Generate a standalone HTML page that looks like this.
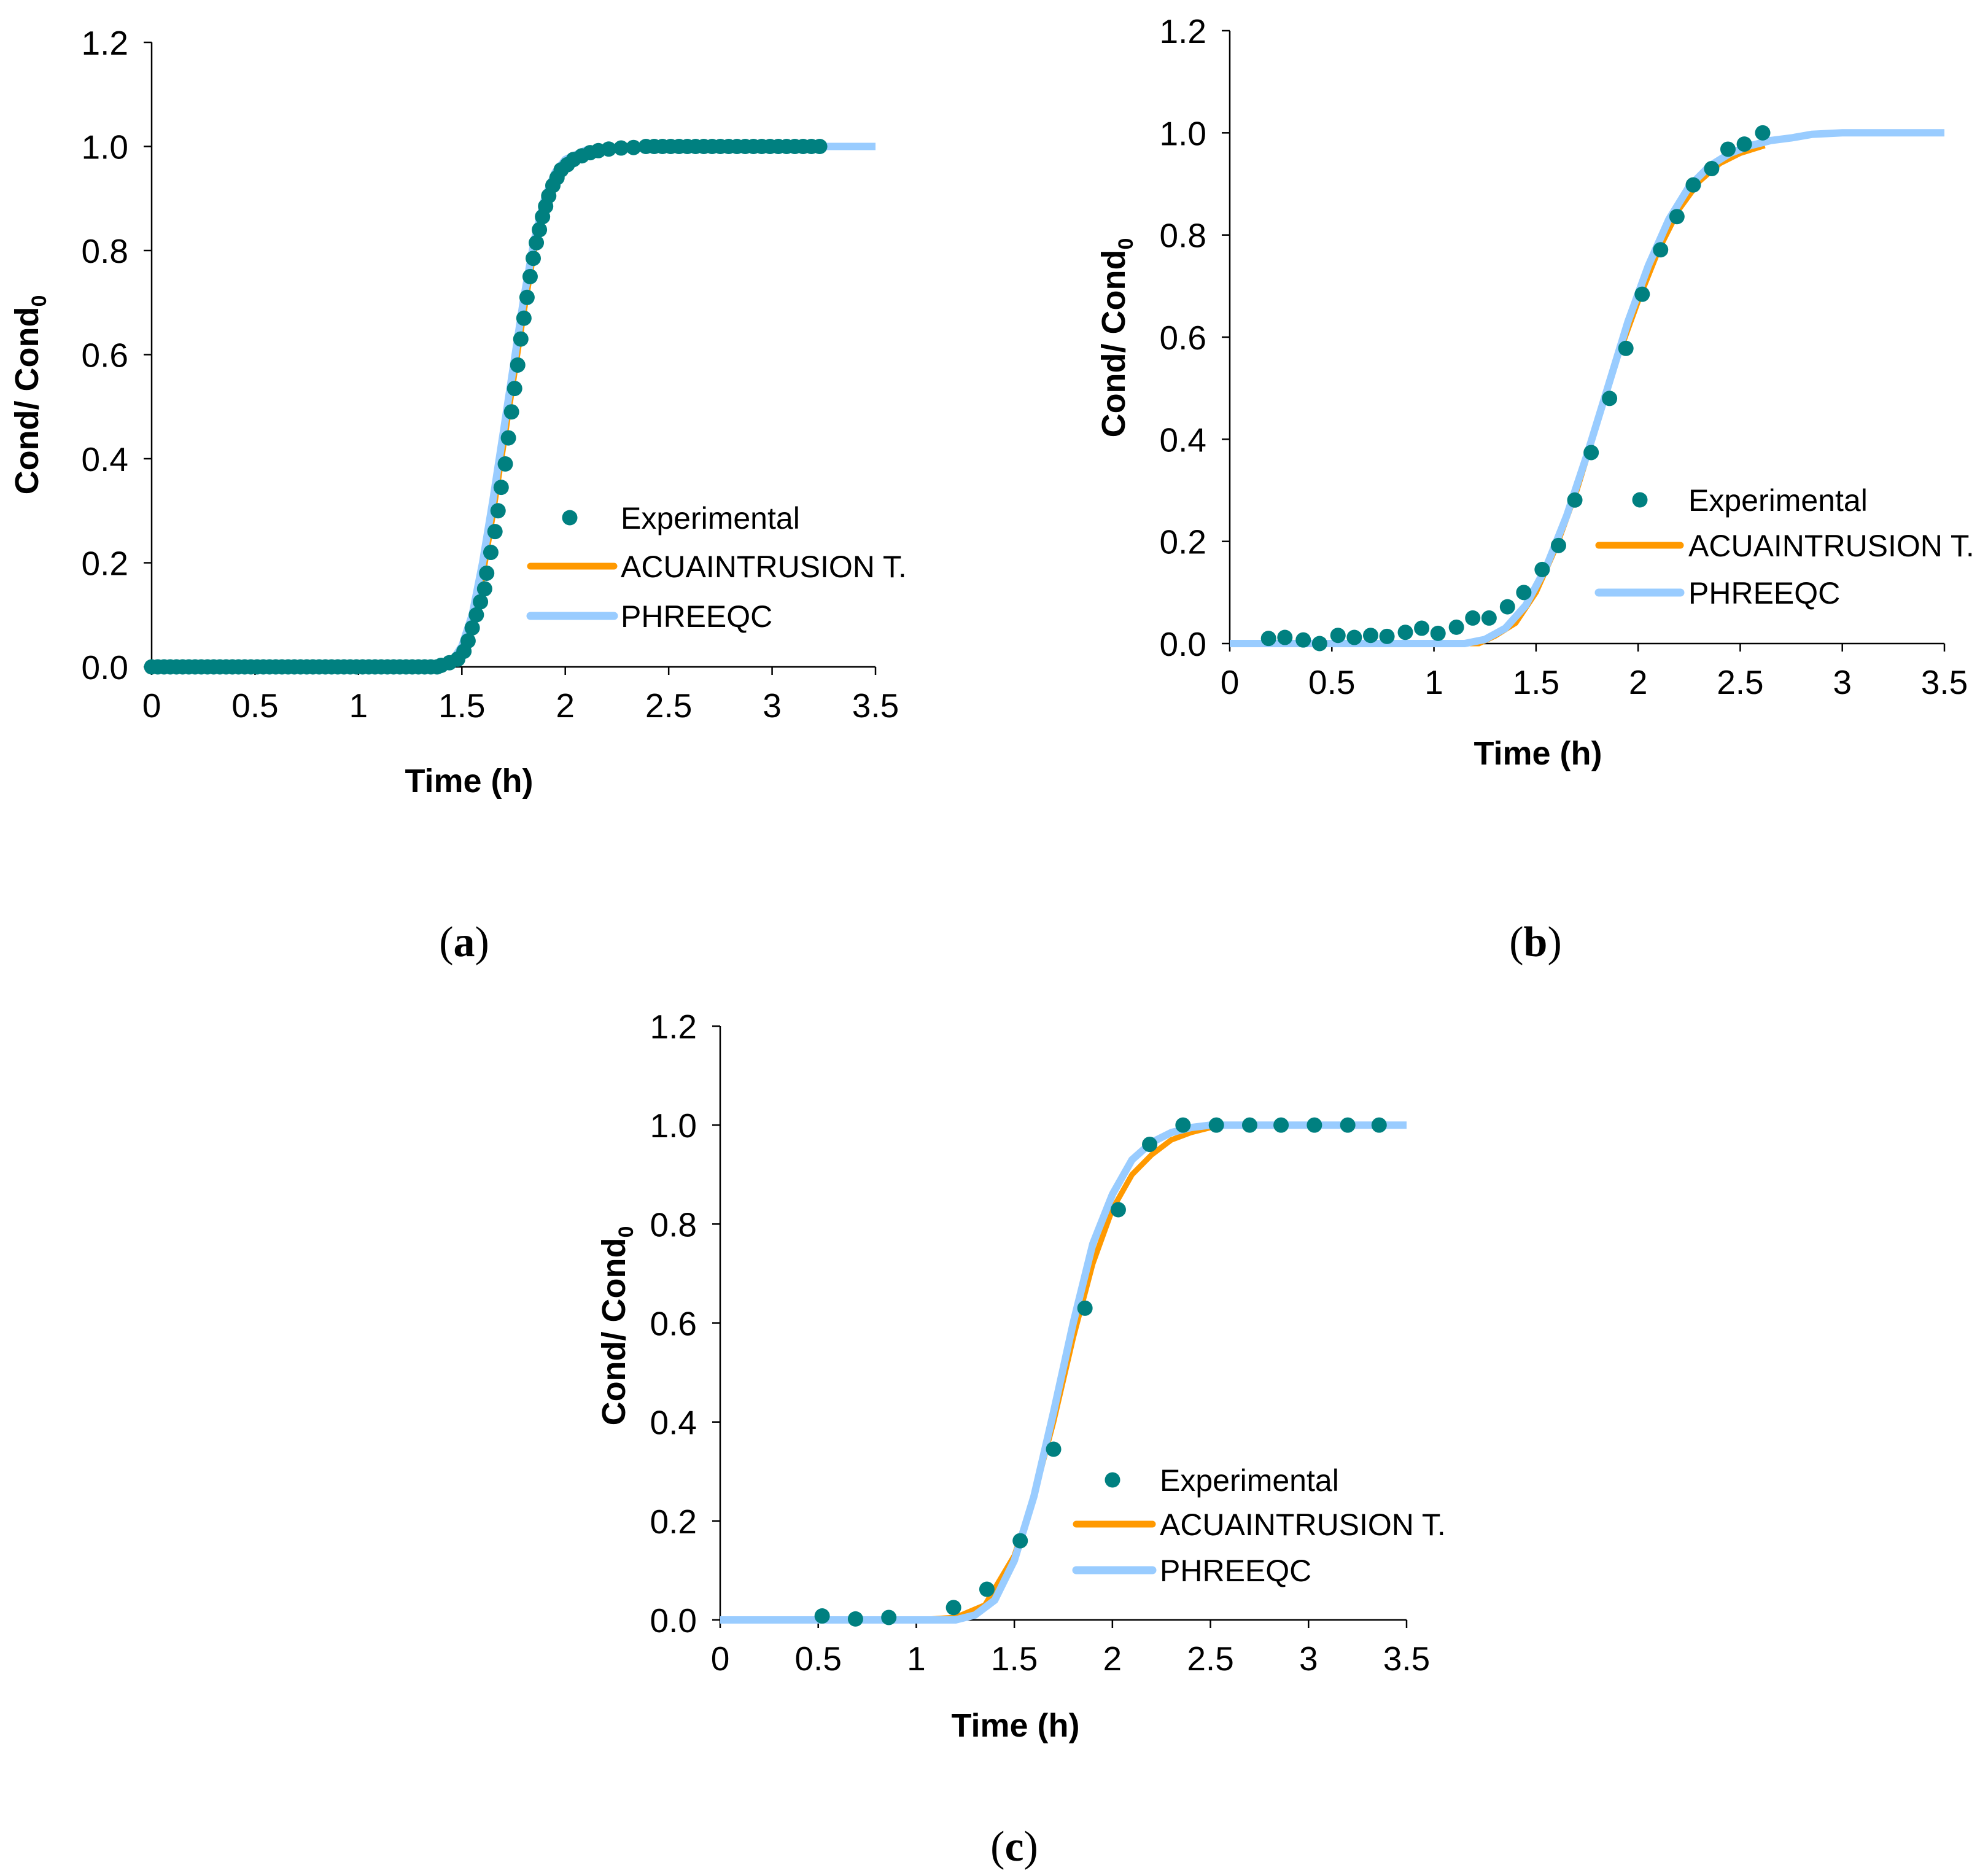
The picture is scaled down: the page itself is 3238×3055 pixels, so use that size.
<!DOCTYPE html>
<html><head><meta charset="utf-8"><style>
html,body{margin:0;padding:0;background:#fff;}
svg{display:block;}
</style></head><body>
<svg id="fig" width="3238" height="3055" viewBox="0 0 3238 3055" xmlns="http://www.w3.org/2000/svg" font-family="Liberation Sans, Arial, sans-serif">
<rect width="3238" height="3055" fill="#fff"/>
</svg>
<script>
// ---------- shared ticks ----------
const xTicks = [0, 0.5, 1, 1.5, 2, 2.5, 3, 3.5];
const xTickLabels = ["0","0.5","1","1.5","2","2.5","3","3.5"];
const yTicks = [0, 0.2, 0.4, 0.6, 0.8, 1.0, 1.2];
const yTickLabels = ["0.0","0.2","0.4","0.6","0.8","1.0","1.2"];

// ---------- chart (a) data ----------
const expA_t = [0,0.03,0.06,0.09,0.12,0.15,0.18,0.21,0.24,0.27,0.3,0.33,0.36,0.39,0.42,0.45,0.48,0.51,0.54,0.57,0.6,0.63,0.66,0.69,0.72,0.75,0.78,0.81,0.84,0.87,0.9,0.93,0.96,0.99,1.02,1.05,1.08,1.11,1.14,1.17,1.2,1.23,1.26,1.29,1.32,1.35,1.38,
1.40,1.44,1.48,1.51,1.53,1.55,1.57,1.59,1.61,1.62,1.64,1.66,1.675,1.69,1.71,1.725,1.74,1.755,1.77,1.785,1.80,1.815,1.83,1.845,1.86,1.875,1.89,1.905,1.92,1.94,1.96,1.98,2.01,2.04,2.08,2.12,2.16,2.21,2.27,2.33,
2.39,2.43,2.47,2.51,2.55,2.59,2.63,2.67,2.71,2.75,2.79,2.83,2.87,2.91,2.95,2.99,3.03,3.07,3.11,3.15,3.19,3.23];
const expA_y = [0,0,0,0,0,0,0,0,0,0,0,0,0,0,0,0,0,0,0,0,0,0,0,0,0,0,0,0,0,0,0,0,0,0,0,0,0,0,0,0,0,0,0,0,0,0,0,
0.003,0.008,0.015,0.03,0.05,0.075,0.1,0.125,0.15,0.18,0.22,0.26,0.30,0.345,0.39,0.44,0.49,0.535,0.58,0.63,0.67,0.71,0.75,0.785,0.815,0.84,0.865,0.885,0.905,0.925,0.94,0.955,0.965,0.975,0.982,0.988,0.992,0.995,0.997,0.998,
1,1,1,1,1,1,1,1,1,1,1,1,1,1,1,1,1,1,1,1,1,1];
const acuA_t = [0,1.4,1.5,1.55,1.6,1.65,1.7,1.75,1.8,1.85,1.9,1.95,2.0,2.1,2.2,2.4,3.5];
const acuA_y = [0,0,0.03,0.08,0.17,0.29,0.42,0.55,0.68,0.80,0.89,0.94,0.97,0.99,0.998,1,1];
const phrA_t = [0,1.35,1.45,1.5,1.55,1.6,1.65,1.7,1.75,1.8,1.85,1.9,1.95,2.0,2.1,2.2,2.4,3.5];
const phrA_y = [0,0,0.01,0.04,0.1,0.2,0.32,0.45,0.58,0.71,0.82,0.9,0.95,0.975,0.993,0.998,1,1];

// ---------- chart (b) data ----------
const expB_t = [0.19,0.27,0.36,0.44,0.53,0.61,0.69,0.77,0.86,0.94,1.02,1.11,1.19,1.27,1.36,1.44,1.53,1.61,1.69,1.77,1.86,1.94,2.02,2.11,2.19,2.27,2.36,2.44,2.52,2.61];
const expB_y = [0.01,0.012,0.007,0,0.016,0.012,0.016,0.014,0.022,0.03,0.02,0.032,0.05,0.05,0.072,0.1,0.145,0.192,0.281,0.374,0.48,0.578,0.684,0.771,0.836,0.898,0.93,0.968,0.978,1.0];
const acuB_t = [0,1.22,1.3,1.4,1.5,1.6,1.7,1.8,1.9,2.0,2.1,2.2,2.3,2.4,2.5,2.62];
const acuB_y = [0,0,0.015,0.04,0.1,0.19,0.3,0.43,0.56,0.67,0.77,0.85,0.905,0.94,0.96,0.975];
const phrB_t = [0,1.15,1.25,1.35,1.45,1.55,1.65,1.75,1.85,1.95,2.05,2.15,2.25,2.35,2.45,2.55,2.65,2.75,2.85,3.0,3.5];
const phrB_y = [0,0,0.008,0.03,0.075,0.15,0.25,0.37,0.5,0.63,0.74,0.83,0.895,0.935,0.96,0.975,0.985,0.99,0.997,1,1];

// ---------- chart (c) data ----------
const expC_t = [0.52,0.69,0.86,1.19,1.36,1.53,1.70,1.86,2.03,2.19,2.36,2.53,2.70,2.86,3.03,3.20,3.36];
const expC_y = [0.008,0.002,0.005,0.025,0.062,0.16,0.345,0.63,0.829,0.961,1,1,1,1,1,1,1];
const acuC_t = [0,1.0,1.2,1.35,1.5,1.6,1.7,1.8,1.9,2.0,2.1,2.2,2.3,2.4,2.5,2.6,3.4];
const acuC_y = [0,0,0.005,0.03,0.13,0.25,0.4,0.57,0.72,0.83,0.9,0.94,0.97,0.985,0.995,1,1];
const phrC_t = [0,1.2,1.3,1.4,1.5,1.6,1.7,1.8,1.9,2.0,2.1,2.2,2.3,2.4,2.5,3.5];
const phrC_y = [0,0,0.01,0.04,0.12,0.25,0.42,0.6,0.76,0.86,0.93,0.965,0.985,0.995,1,1];

const NS = "http://www.w3.org/2000/svg";
const svg = document.getElementById('fig');
function mk(tag, attrs, parent){
  const e = document.createElementNS(NS, tag);
  for (const k in attrs) e.setAttribute(k, attrs[k]);
  (parent||svg).appendChild(e);
  return e;
}
const TEAL="#008080", ORANGE="#FF9900", BLUE="#99CCFF";

function drawChart(id, g, exp_t, exp_y, acu_t, acu_y, phr_t, phr_y){
  const grp = mk('g', {});
  
  
  const sx = v => g.x0 + (v/3.5)*(g.x1-g.x0);
  const sy = v => g.y0 - (v/1.2)*(g.y0-g.y1);
  const ya = mk('line', {x1:g.x0,y1:g.y1,x2:g.x0,y2:g.y0,stroke:'#000','stroke-width':2.5}, grp);
  
  
  const xa = mk('line', {x1:g.x0,y1:g.y0,x2:g.x1,y2:g.y0,stroke:'#000','stroke-width':2.5}, grp);
  
  
  yTicks.forEach((v,i)=>{
    const y = sy(v);
    mk('line',{x1:g.x0-13,y1:y,x2:g.x0,y2:y,stroke:'#000','stroke-width':2.5},grp);
    const t = mk('text',{x:g.x0-38,y:y+20,'font-size':55,'text-anchor':'end',fill:'#000'},grp);
    t.textContent = yTickLabels[i];
    
    
  });
  xTicks.forEach((v,i)=>{
    const x = sx(v);
    mk('line',{x1:x,y1:g.y0,x2:x,y2:g.y0+13,stroke:'#000','stroke-width':2.5},grp);
    const t = mk('text',{x:x,y:g.y0+82,'font-size':55,'text-anchor':'middle',fill:'#000'},grp);
    t.textContent = xTickLabels[i];
    
    
  });
  const xt = mk('text',{x:g.xtx,y:g.xty,'font-size':54,'font-weight':'bold','text-anchor':'middle',fill:'#000'},grp);
  xt.textContent = 'Time (h)';
  
  
  const yt = mk('text',{x:0,y:0,'font-size':54,'font-weight':'bold','text-anchor':'middle',fill:'#000',transform:`translate(${g.ytx},${g.yty}) rotate(-90)`},grp);
  yt.innerHTML = 'Cond/ Cond<tspan font-size="34" dy="13">0</tspan>';
  
  
  const pts = (ts, ys) => ts.map((t,i)=>sx(t).toFixed(1)+','+sy(ys[i]).toFixed(1)).join(' ');
  const ao = mk('polyline',{points:pts(acu_t,acu_y),fill:'none',stroke:ORANGE,'stroke-width':9,'stroke-linejoin':'round'},grp);
  
  
  const pb = mk('polyline',{points:pts(phr_t,phr_y),fill:'none',stroke:BLUE,'stroke-width':12,'stroke-linejoin':'round'},grp);
  
  
  exp_t.forEach((t,i)=>{
    const c = mk('circle',{cx:sx(t),cy:sy(exp_y[i]),r:12.5,fill:TEAL},grp);
    
    
  });
  const L = g.leg;
  const lg = mk('g',{},grp);
  
  
  mk('circle',{cx:L.mx,cy:L.y1,r:12.5,fill:TEAL},lg);
  mk('line',{x1:L.lx0,y1:L.y2,x2:L.lx1,y2:L.y2,stroke:ORANGE,'stroke-width':11,'stroke-linecap':'round'},lg);
  mk('line',{x1:L.lx0,y1:L.y3,x2:L.lx1,y2:L.y3,stroke:BLUE,'stroke-width':13,'stroke-linecap':'round'},lg);
  [['Experimental',L.y1],['ACUAINTRUSION T.',L.y2],['PHREEQC',L.y3]].forEach(([s,y])=>{
    const t = mk('text',{x:L.tx,y:y+18,'font-size':50,fill:'#000'},lg);
    t.textContent = s;
    
    
  });
  const cap = mk('text',{x:g.cx,y:g.cy,'font-size':70,'text-anchor':'middle',fill:'#000'},grp);
  cap.setAttribute('font-family', 'Liberation Serif, serif');
  cap.innerHTML = '(<tspan font-weight="bold">'+id+'</tspan>)';
  
  
}

drawChart('a',{x0:247,x1:1426,y0:1086,y1:69,xtx:764,xty:1290,ytx:62,yty:643,
  leg:{mx:928,y1:843,y2:922,y3:1003,lx0:864,lx1:1000,tx:1011},cx:756,cy:1557},
  expA_t,expA_y,acuA_t,acuA_y,phrA_t,phrA_y);
drawChart('b',{x0:2003,x1:3167,y0:1048,y1:50,xtx:2505,xty:1245,ytx:1832,yty:550,
  leg:{mx:2671,y1:814,y2:888,y3:965,lx0:2604,lx1:2737,tx:2750},cx:2501,cy:1557},
  expB_t,expB_y,acuB_t,acuB_y,phrB_t,phrB_y);
drawChart('c',{x0:1173,x1:2291,y0:2638,y1:1671,xtx:1654,xty:2828,ytx:1018,yty:2159,
  leg:{mx:1812,y1:2410,y2:2482,y3:2557,lx0:1753,lx1:1877,tx:1889},cx:1652,cy:3030},
  expC_t,expC_y,acuC_t,acuC_y,phrC_t,phrC_y);
</script>
</body></html>
